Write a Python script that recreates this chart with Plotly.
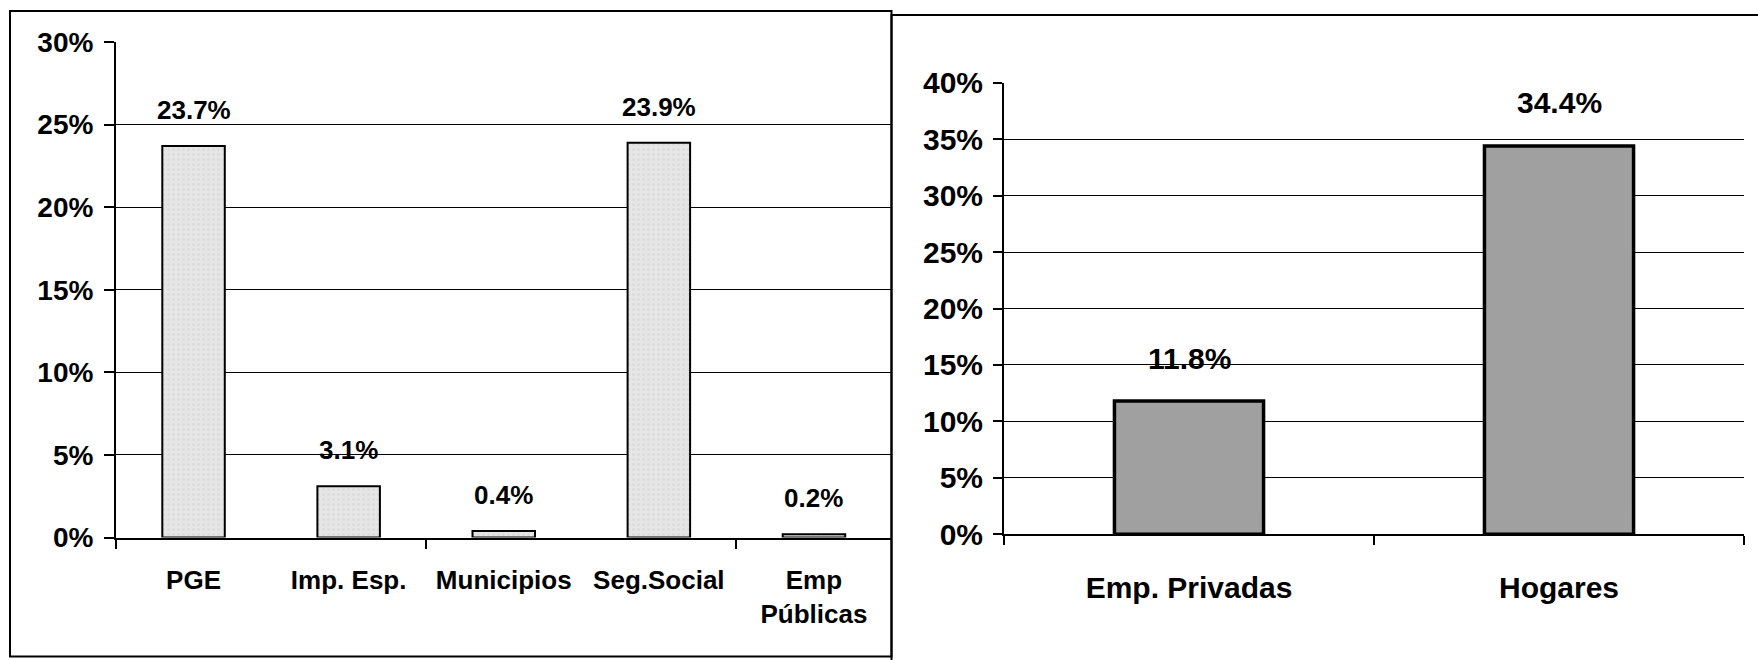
import plotly.graph_objects as go

# ---- data ----
left_categories = ["PGE", "Imp. Esp.", "Municipios", "Seg.Social", "Emp<br>Públicas"]
left_values = [23.7, 3.1, 0.4, 23.9, 0.2]
left_yticks = [0, 5, 10, 15, 20, 25, 30]

right_categories = ["Emp. Privadas", "Hogares"]
right_values = [11.8, 34.4]
right_yticks = [0, 5, 10, 15, 20, 25, 30, 35, 40]

W, H = 1758, 660
FONT = "Liberation Sans, Arial, sans-serif"


def fx(p):
    return p / W


def fy(p):
    return 1 - p / H


lx = list(range(len(left_categories)))
rx = list(range(len(right_categories)))

fig = go.Figure()
fig.add_trace(go.Bar(
    x=lx, y=left_values, xaxis="x", yaxis="y",
    marker=dict(color="#E4E4E4", line=dict(color="black", width=2),
                pattern=dict(shape=".", fgcolor="#D2D2D2", bgcolor="#E6E6E6",
                             size=5, solidity=0.3)),
    hoverinfo="skip",
))
fig.add_trace(go.Bar(
    x=rx, y=right_values, xaxis="x2", yaxis="y2",
    marker=dict(color="#A0A0A0", line=dict(color="black", width=3.5)),
    hoverinfo="skip",
))

annotations = []
for i, v in zip(lx, left_values):
    annotations.append(dict(x=i, y=v, xref="x", yref="y", text=f"{v:.1f}%",
                            showarrow=False, yshift=36, yanchor="middle",
                            font=dict(family=FONT, size=26, color="black", weight="bold")))
for i, v in zip(rx, right_values):
    annotations.append(dict(x=i, y=v, xref="x2", yref="y2", text=f"{v:.1f}%",
                            showarrow=False, yshift=43, yanchor="middle",
                            font=dict(family=FONT, size=30, color="black", weight="bold")))

shapes = [
    dict(type="rect", xref="paper", yref="paper",
         x0=fx(10), x1=fx(891.5), y0=fy(656.5), y1=fy(11),
         line=dict(color="black", width=2), fillcolor="rgba(0,0,0,0)", layer="below"),
    dict(type="rect", xref="paper", yref="paper",
         x0=fx(891.5), x1=1.05, y0=-0.1, y1=fy(15),
         line=dict(color="black", width=2), fillcolor="rgba(0,0,0,0)", layer="below"),
]

fig.update_layout(
    width=W, height=H, autosize=False,
    margin=dict(l=0, r=0, t=0, b=0, pad=0),
    paper_bgcolor="white", plot_bgcolor="rgba(0,0,0,0)",
    showlegend=False, bargap=0.597,
    annotations=annotations, shapes=shapes,
    xaxis=dict(
        domain=[fx(116), fx(891.5)], anchor="y", range=[-0.5, len(lx) - 0.5],
        automargin=False,
        tickmode="array", tickvals=lx, ticktext=left_categories, ticks="", tickangle=0,
        showline=True, linecolor="black", linewidth=2, showgrid=False, zeroline=False,
        tickfont=dict(family=FONT, size=26, color="black", weight="bold"),
        ticklabelstandoff=18,
        minor=dict(tickmode="array", tickvals=[-0.5, 1.5, 3.5], ticks="outside",
                   ticklen=9, tickwidth=2, tickcolor="black", showgrid=False),
    ),
    yaxis=dict(
        domain=[fy(537.5), fy(42)], anchor="x", range=[0, 30],
        automargin=False,
        tickmode="array", tickvals=left_yticks,
        ticktext=[f"{t}%" for t in left_yticks],
        ticks="outside", ticklen=10, tickwidth=2, tickcolor="black",
        showline=True, linecolor="black", linewidth=2, showgrid=False, zeroline=False,
        tickfont=dict(family=FONT, size=28, color="black", weight="bold"),
        ticklabelstandoff=5,
        minor=dict(tickmode="array", tickvals=left_yticks[1:-1], ticks="",
                   showgrid=True, gridcolor="black", gridwidth=1.4),
    ),
    xaxis2=dict(
        domain=[fx(1004), fx(1744)], anchor="y2", range=[-0.5, len(rx) - 0.5],
        automargin=False,
        tickmode="array", tickvals=rx, ticktext=right_categories, ticks="", tickangle=0,
        showline=True, linecolor="black", linewidth=2, showgrid=False, zeroline=False,
        tickfont=dict(family=FONT, size=30, color="black", weight="bold"),
        ticklabelstandoff=26,
        minor=dict(tickmode="array", tickvals=[-0.5, 0.5, 1.5], ticks="outside",
                   ticklen=9, tickwidth=2, tickcolor="black", showgrid=False),
    ),
    yaxis2=dict(
        domain=[fy(534.3), fy(82.7)], anchor="x2", range=[0, 40],
        automargin=False,
        tickmode="array", tickvals=right_yticks,
        ticktext=[f"{t}%" for t in right_yticks],
        ticks="outside", ticklen=9, tickwidth=2, tickcolor="black",
        showline=True, linecolor="black", linewidth=2, showgrid=False, zeroline=False,
        tickfont=dict(family=FONT, size=30, color="black", weight="bold"),
        ticklabelstandoff=4,
        minor=dict(tickmode="array", tickvals=right_yticks[1:-1], ticks="",
                   showgrid=True, gridcolor="black", gridwidth=1.2),
    ),
)

fig.write_html(
    "out.html",
    config={"displayModeBar": False},
    post_script=(
        "document.body.style.margin='0px';"
        "document.body.style.overflow='hidden';"
        "document.documentElement.style.overflow='hidden';"
    ),
)
